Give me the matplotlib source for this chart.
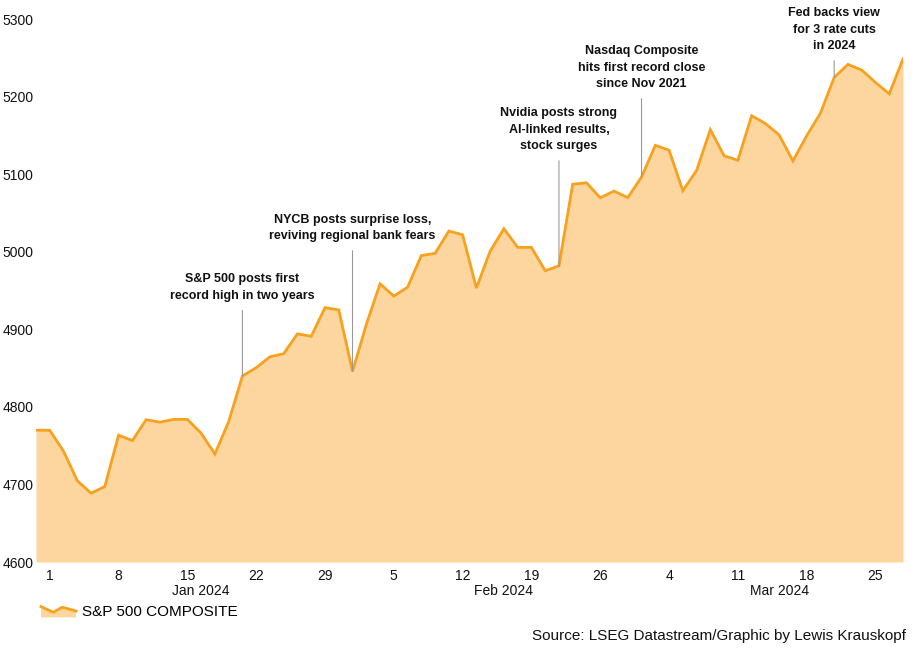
import numpy as np
import matplotlib
matplotlib.use("Agg")
import matplotlib.pyplot as plt
from matplotlib.legend_handler import HandlerBase
from matplotlib.patches import Polygon
from matplotlib.lines import Line2D

plt.rcParams['font.family'] = ['Liberation Sans', 'DejaVu Sans']

# S&P 500 daily closes, weekdays Dec 29 2023 - Mar 27 2024 (holidays carry previous close)
dates = ["Dec 29",
         "Jan 1", "Jan 2", "Jan 3", "Jan 4", "Jan 5",
         "Jan 8", "Jan 9", "Jan 10", "Jan 11", "Jan 12",
         "Jan 15", "Jan 16", "Jan 17", "Jan 18", "Jan 19",
         "Jan 22", "Jan 23", "Jan 24", "Jan 25", "Jan 26",
         "Jan 29", "Jan 30", "Jan 31", "Feb 1", "Feb 2",
         "Feb 5", "Feb 6", "Feb 7", "Feb 8", "Feb 9",
         "Feb 12", "Feb 13", "Feb 14", "Feb 15", "Feb 16",
         "Feb 19", "Feb 20", "Feb 21", "Feb 22", "Feb 23",
         "Feb 26", "Feb 27", "Feb 28", "Feb 29", "Mar 1",
         "Mar 4", "Mar 5", "Mar 6", "Mar 7", "Mar 8",
         "Mar 11", "Mar 12", "Mar 13", "Mar 14", "Mar 15",
         "Mar 18", "Mar 19", "Mar 20", "Mar 21", "Mar 22",
         "Mar 25", "Mar 26", "Mar 27"]
closes = [4769.83,
          4769.83, 4742.83, 4704.81, 4688.68, 4697.24,
          4763.54, 4756.50, 4783.45, 4780.24, 4783.83,
          4783.83, 4765.98, 4739.21, 4780.94, 4839.81,
          4850.43, 4864.60, 4868.55, 4894.16, 4890.97,
          4927.93, 4924.97, 4845.65, 4906.19, 4958.61,
          4942.81, 4954.23, 4995.06, 4997.91, 5026.61,
          5021.84, 4953.17, 5000.62, 5029.73, 5005.57,
          5005.57, 4975.51, 4981.80, 5087.03, 5088.80,
          5069.53, 5078.18, 5069.76, 5096.27, 5137.08,
          5130.95, 5078.65, 5104.76, 5157.36, 5123.69,
          5117.94, 5175.27, 5165.31, 5150.48, 5117.09,
          5149.42, 5178.51, 5224.62, 5241.53, 5234.18,
          5218.19, 5203.58, 5248.49]

tick_dates = ["Jan 1", "Jan 8", "Jan 15", "Jan 22", "Jan 29", "Feb 5", "Feb 12",
              "Feb 19", "Feb 26", "Mar 4", "Mar 11", "Mar 18", "Mar 25"]
tick_labels = ["1", "8", "15", "22", "29", "5", "12", "19", "26", "4", "11", "18", "25"]
months = ["Jan 2024", "Feb 2024", "Mar 2024"]
month_prefix = ["Jan", "Feb", "Mar"]

events = [("Jan 19", "S&P 500 posts first\nrecord high in two years", 4935),
          ("Jan 31", "NYCB posts surprise loss,\nreviving regional bank fears", 5012),
          ("Feb 21", "Nvidia posts strong\nAI-linked results,\nstock surges", 5128),
          ("Feb 29", "Nasdaq Composite\nhits first record close\nsince Nov 2021", 5208),
          ("Mar 20", "Fed backs view\nfor 3 rate cuts\nin 2024", 5257)]

line_color = "#F7A11E"
fill_color = "#FDD59E"

x = np.arange(len(dates))
y = np.array(closes)

fig = plt.figure(figsize=(9.15, 6.48), dpi=100)
ax = fig.add_axes([36 / 915, 1 - 562 / 648, (903 - 36) / 915, (562 - 19) / 648])

ax.fill_between(x, y, 4600, color=fill_color, lw=0)
ax.plot(x, y, color=line_color, lw=2, solid_joinstyle='miter')

ax.set_xlim(0, len(dates) - 1)
ax.set_ylim(4600, 5300)
ax.set_yticks(range(4600, 5301, 100))
ax.set_xticks([dates.index(d) for d in tick_dates])
ax.set_xticklabels(tick_labels)
ax.tick_params(length=0, labelsize=10, colors="#111111")
ax.tick_params(axis='x', pad=5)
ax.tick_params(axis='y', pad=2)
for s in ax.spines.values():
    s.set_visible(False)

for m, pre in zip(months, month_prefix):
    idx = [i for i, d in enumerate(dates) if d.startswith(pre)]
    ax.text((idx[0] + idx[-1]) / 2, -0.053, m, transform=ax.get_xaxis_transform(),
            ha='center', va='center', fontsize=10, color="#111111")

for d, label, ty in events:
    i = dates.index(d)
    ax.annotate(label, xy=(i, closes[i]), xytext=(i, ty), ha='center', va='bottom',
                fontsize=9, fontweight='bold', color="#111111", linespacing=1.52,
                arrowprops=dict(arrowstyle='-', color="#999999", lw=0.8,
                                shrinkA=4, shrinkB=0))


class ZigzagHandler(HandlerBase):
    def create_artists(self, legend, orig_handle, xdescent, ydescent,
                       width, height, fontsize, trans):
        xs = np.array([0.0, 0.35, 0.6, 1.0]) * width - xdescent
        ys = np.array([0.85, 0.4, 0.8, 0.5]) * height - ydescent
        pts = list(zip(xs, ys)) + [(xs[-1], -ydescent), (xs[0], -ydescent)]
        poly = Polygon(pts, closed=True, fc=fill_color, ec='none', transform=trans)
        ln = Line2D(xs, ys, color=line_color, lw=2, transform=trans)
        return [poly, ln]


handle = Line2D([], [], color=line_color)
fig.legend([handle], ["S&P 500 COMPOSITE"], handler_map={Line2D: ZigzagHandler()},
           loc='center left', bbox_to_anchor=(41 / 915, 1 - 612 / 648),
           frameon=False, fontsize=11, handlelength=2.3, handleheight=0.9,
           handletextpad=0.4, borderpad=0, borderaxespad=0)

fig.text(906 / 915, 1 - 636 / 648, "Source: LSEG Datastream/Graphic by Lewis Krauskopf",
         ha='right', va='center', fontsize=11, color="#111111")

fig.savefig("out.png", dpi=100)
